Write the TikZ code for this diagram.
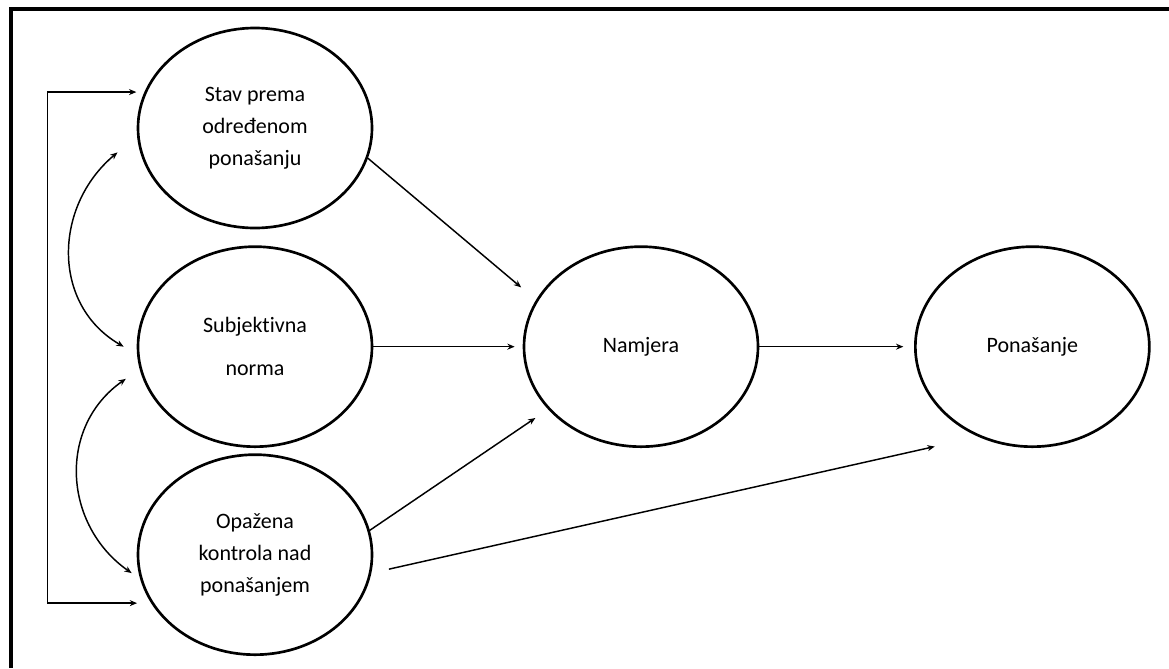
\documentclass[tikz,border=0pt]{standalone}
\usepackage{fontspec}
\setmainfont{Carlito}[Ligatures={NoCommon}]
\usetikzlibrary{shapes.geometric,arrows.meta,positioning}

\begin{document}
\begin{tikzpicture}[
    x=0.75pt, y=0.75pt,
    konstrukt/.style={ellipse, draw=black, line width=2pt, minimum width=175.5pt, minimum height=150pt, inner sep=0pt, align=center, font=\fontsize{16.5}{24}\selectfont},
    arrow/.style={-{Stealth[length=5.5pt, width=4.5pt]}, line width=1.1pt},
    dvosmjer/.style={{Stealth[length=5.5pt, width=4.5pt]}-{Stealth[length=5.5pt, width=4.5pt]}, line width=1.1pt},
    okvir/.style={line width=3pt}
]
\useasboundingbox (0,0) rectangle (1169,-668);

% === Frame (top and left edge) ===
\draw[okvir] (10.5,-668) |- (1169,-8.5);

% === Predictors (left column) ===
\node[konstrukt] (stav) at (255,-128) {Stav prema\\određenom\\ponašanju};
\node[konstrukt, below=12pt of stav] (norma) {Subjektivna\\[8pt]norma};
\node[konstrukt, below=4pt of norma] (kontrola) {Opažena\\kontrola nad\\ponašanjem};

% === Intention and behaviour ===
\node[konstrukt, right=112pt of norma] (namjera) {Namjera};
\node[konstrukt, right=116pt of namjera] (ponasanje) {Ponašanje};

% === Links between predictors ===
\draw[dvosmjer] ([xshift=-6pt]stav.162) -- ++(-89,0) |- ([xshift=-10.5pt]kontrola.205);
\draw[dvosmjer] ([xshift=-17pt]stav.192) to[out=220, in=150, looseness=1.1] ([xshift=-9.75pt]norma.180);
\draw[dvosmjer] ([xshift=-12.75pt]norma.196) to[out=215, in=145, looseness=1.1] ([xshift=-5.25pt]kontrola.189);

% === Paths to intention and behaviour ===
\draw[arrow, shorten >=14.6pt] (stav.-15) -- (namjera.156);
\draw[arrow, shorten >=6pt] (norma) -- (namjera);
\draw[arrow, shorten >=11.5pt] (kontrola.12) -- (namjera.214);
\draw[arrow, shorten >=8pt] (namjera) -- (ponasanje);
\draw[arrow, shorten <=13.5pt, shorten >=33.4pt] (kontrola.-9) -- (ponasanje.239);

\end{tikzpicture}
\end{document}
